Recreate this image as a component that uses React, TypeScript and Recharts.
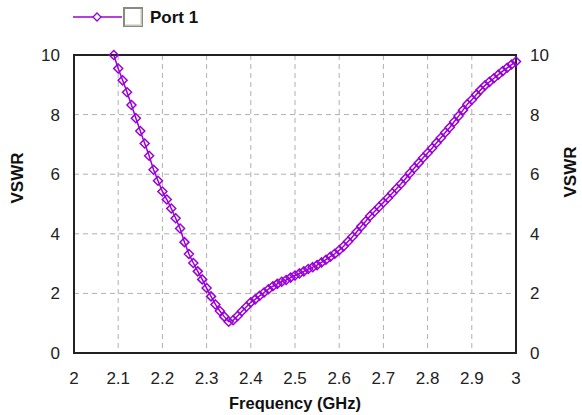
import React from 'react';
import {
  LineChart,
  Line,
  XAxis,
  YAxis,
  CartesianGrid,
  ReferenceArea
} from 'recharts';

// frequency sweep (GHz), 0.01 step, values above 10 are off the plot
const frequencies = [
  2.09, 2.1, 2.11, 2.12, 2.13, 2.14, 2.15, 2.16, 2.17, 2.18, 2.19,
  2.2, 2.21, 2.22, 2.23, 2.24, 2.25, 2.26, 2.27, 2.28, 2.29,
  2.3, 2.31, 2.32, 2.33, 2.34, 2.35, 2.36, 2.37, 2.38, 2.39,
  2.4, 2.41, 2.42, 2.43, 2.44, 2.45, 2.46, 2.47, 2.48, 2.49,
  2.5, 2.51, 2.52, 2.53, 2.54, 2.55, 2.56, 2.57, 2.58, 2.59,
  2.6, 2.61, 2.62, 2.63, 2.64, 2.65, 2.66, 2.67, 2.68, 2.69,
  2.7, 2.71, 2.72, 2.73, 2.74, 2.75, 2.76, 2.77, 2.78, 2.79,
  2.8, 2.81, 2.82, 2.83, 2.84, 2.85, 2.86, 2.87, 2.88, 2.89,
  2.9, 2.91, 2.92, 2.93, 2.94, 2.95, 2.96, 2.97, 2.98, 2.99, 3.0
];

const port1Vswr = [
  10.0, 9.55, 9.15, 8.75, 8.32, 7.88, 7.45, 7.03, 6.62, 6.15, 5.78,
  5.42, 5.15, 4.85, 4.52, 4.18, 3.72, 3.32, 3.02, 2.74, 2.47,
  2.18, 1.9, 1.63, 1.41, 1.22, 1.05, 1.1, 1.24, 1.4, 1.55,
  1.7, 1.8, 1.92, 2.03, 2.14, 2.24, 2.32, 2.39, 2.45, 2.53,
  2.6, 2.67, 2.74, 2.82, 2.88, 2.95, 3.04, 3.13, 3.23, 3.33,
  3.45, 3.58, 3.74, 3.9, 4.07, 4.25, 4.42, 4.6, 4.75, 4.9,
  5.05, 5.2, 5.36, 5.52, 5.68, 5.85, 6.03, 6.21, 6.38, 6.55,
  6.71, 6.87, 7.05, 7.22, 7.4, 7.57, 7.76, 7.95, 8.15, 8.35,
  8.5, 8.67, 8.83, 8.98, 9.1, 9.22, 9.34, 9.46, 9.57, 9.68, 9.78
];

const xTicks = [2, 2.1, 2.2, 2.3, 2.4, 2.5, 2.6, 2.7, 2.8, 2.9, 3];
const yTicks = [0, 2, 4, 6, 8, 10];

const data = frequencies.map((f, i) => ({ freq: f, vswr: port1Vswr[i] }));

const PURPLE = '#9a00d6';
const FONT = '"Liberation Sans", Arial, sans-serif';
const tickStyle = { fontSize: 17, fill: '#222', fontFamily: FONT };

const Diamond = (props: any) => {
  const { cx, cy, index } = props;
  if (cx == null || cy == null) return <g key={index} />;
  const s = 4.5;
  return (
    <path
      key={index}
      d={`M${cx},${cy - s} L${cx + s},${cy} L${cx},${cy + s} L${cx - s},${cy} Z`}
      fill="none"
      stroke={PURPLE}
      strokeWidth={1.5}
    />
  );
};

const PortLegend = () => (
  <svg width={200} height={30} style={{ position: 'absolute', left: 70, top: 0 }}>
    <line x1={3} y1={17} x2={52} y2={17} stroke={PURPLE} strokeWidth={1.5} />
    <path d="M27,13 L31,17 L27,21 L23,17 Z" fill="#fff" stroke={PURPLE} strokeWidth={1.3} />
    <rect x={54} y={8} width={18} height={18} fill="#fff" stroke="#8a8a80" strokeWidth={2} />
    <line x1={55} y1={25} x2={72} y2={25} stroke="#d8d8d0" strokeWidth={1.5} />
    <line x1={71} y1={9} x2={71} y2={25} stroke="#d8d8d0" strokeWidth={1.5} />
    <text x={80} y={23} fontFamily={FONT} fontWeight="bold" fontSize={17} fill="#111">
      Port 1
    </text>
  </svg>
);

const leftTitle = (props: any) => {
  const { viewBox } = props;
  const x = viewBox.x - 3;
  const y = viewBox.y + viewBox.height / 2 - 26;
  return (
    <text
      x={x}
      y={y}
      transform={`rotate(-90 ${x} ${y})`}
      textAnchor="middle"
      dominantBaseline="central"
      fontFamily={FONT}
      fontWeight="bold"
      fontSize={17}
      fill="#111"
    >
      VSWR
    </text>
  );
};

const rightTitle = (props: any) => {
  const { viewBox } = props;
  const x = viewBox.x + viewBox.width + 4;
  const y = viewBox.y + viewBox.height / 2 - 32;
  return (
    <text
      x={x}
      y={y}
      transform={`rotate(-90 ${x} ${y})`}
      textAnchor="middle"
      dominantBaseline="central"
      fontFamily={FONT}
      fontWeight="bold"
      fontSize={17}
      fill="#111"
    >
      VSWR
    </text>
  );
};

export default function App() {
  return (
    <div style={{ position: 'absolute', left: 0, top: 0, width: 582, height: 415, background: '#fff' }}>
      <PortLegend />
      <LineChart
        width={582}
        height={415}
        data={data}
        margin={{ top: 55, right: 16, bottom: 0, left: 20 }}
      >
        <CartesianGrid
          stroke="#b0b0b0"
          strokeDasharray="5 4"
          horizontalValues={yTicks}
          verticalValues={xTicks}
        />
        <XAxis
          dataKey="freq"
          type="number"
          domain={[2, 3]}
          ticks={xTicks}
          height={62}
          tickLine={false}
          tickSize={17}
          tickMargin={2}
          axisLine={{ stroke: '#222', strokeWidth: 2 }}
          tick={tickStyle}
          label={{
            value: 'Frequency (GHz)',
            position: 'insideBottom',
            offset: 6,
            style: { fontSize: 16.5, fontWeight: 'bold', fill: '#111', fontFamily: FONT }
          }}
        />
        <XAxis
          xAxisId="top"
          orientation="top"
          dataKey="freq"
          type="number"
          domain={[2, 3]}
          ticks={xTicks}
          height={0}
          tick={false}
          tickLine={false}
          axisLine={{ stroke: '#222', strokeWidth: 2 }}
        />
        <YAxis
          yAxisId={0}
          type="number"
          domain={[0, 10]}
          ticks={yTicks}
          width={54}
          tickLine={false}
          tickSize={12}
          tickMargin={2}
          axisLine={{ stroke: '#222', strokeWidth: 2 }}
          tick={tickStyle}
          label={{ content: leftTitle }}
        />
        <YAxis
          yAxisId="r"
          orientation="right"
          type="number"
          domain={[0, 10]}
          ticks={yTicks}
          width={50}
          tickLine={false}
          tickSize={12}
          tickMargin={2}
          axisLine={{ stroke: '#222', strokeWidth: 2 }}
          tick={tickStyle}
          label={{ content: rightTitle }}
        />
        {/* plot frame */}
        <ReferenceArea
          x1={2}
          x2={3}
          y1={0}
          y2={10}
          yAxisId={0}
          fill="none"
          stroke="#222"
          strokeWidth={2}
          ifOverflow="visible"
        />
        {/* invisible copy so the top and right axes have a series */}
        <Line
          xAxisId="top"
          yAxisId="r"
          dataKey="vswr"
          stroke="none"
          dot={false}
          activeDot={false}
          legendType="none"
          isAnimationActive={false}
        />
        <Line
          yAxisId={0}
          dataKey="vswr"
          name="Port 1"
          type="linear"
          stroke={PURPLE}
          strokeWidth={1.5}
          dot={Diamond}
          activeDot={false}
          isAnimationActive={false}
        />
      </LineChart>
    </div>
  );
}
